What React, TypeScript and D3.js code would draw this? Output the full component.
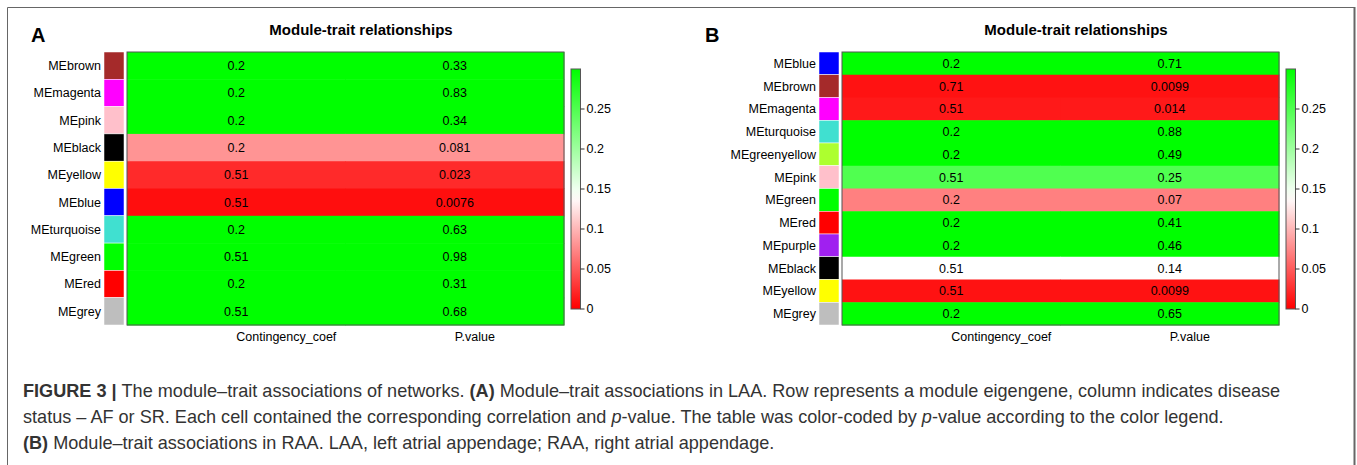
import React from "react";
import * as d3 from "d3";

// ---------- data ----------
const modulesA = ["MEbrown", "MEmagenta", "MEpink", "MEblack", "MEyellow", "MEblue", "MEturquoise", "MEgreen", "MEred", "MEgrey"];
const coefA = [0.2, 0.2, 0.2, 0.2, 0.51, 0.51, 0.2, 0.51, 0.2, 0.51];
const pA = [0.33, 0.83, 0.34, 0.081, 0.023, 0.0076, 0.63, 0.98, 0.31, 0.68];

const modulesB = ["MEblue", "MEbrown", "MEmagenta", "MEturquoise", "MEgreenyellow", "MEpink", "MEgreen", "MEred", "MEpurple", "MEblack", "MEyellow", "MEgrey"];
const coefB = [0.2, 0.71, 0.51, 0.2, 0.2, 0.51, 0.2, 0.2, 0.2, 0.51, 0.51, 0.2];
const pB = [0.71, 0.0099, 0.014, 0.88, 0.49, 0.25, 0.07, 0.41, 0.46, 0.14, 0.0099, 0.65];

const traits = ["Contingency_coef", "P.value"];
const legendTicks = [0, 0.05, 0.1, 0.15, 0.2, 0.25];
const legendDomain = [0, 0.3];
const title = "Module-trait relationships";

const moduleColor: Record<string, string> = {
  MEbrown: "#A52A2A",
  MEmagenta: "#FF00FF",
  MEpink: "#FFC0CB",
  MEblack: "#000000",
  MEyellow: "#FFFF00",
  MEblue: "#0000FF",
  MEturquoise: "#40E0D0",
  MEgreen: "#00FF00",
  MEred: "#FF0000",
  MEgrey: "#BEBEBE",
  MEgreenyellow: "#ADFF2F",
  MEpurple: "#A020F0",
};

const FONT = "'Liberation Sans', Arial, Helvetica, sans-serif";

const color = d3
  .scaleLinear<string>()
  .domain([0, 0.14, 0.3])
  .range(["#ff0000", "#ffffff", "#00ff00"])
  .clamp(true);

type PanelProps = {
  dx: number;
  letterX: number;
  letter: string;
  modules: string[];
  coef: number[];
  p: number[];
  id: string;
};

function Panel({ dx, letterX, letter, modules, coef, p, id }: PanelProps) {
  const stripX0 = 104 + dx;
  const stripX1 = 124 + dx;
  const heatX0 = 127 + dx;
  const heatX1 = 564 + dx;
  const top = 52;
  const bottom = 325;
  const legX0 = 571 + dx;
  const legX1 = 580.5 + dx;

  const y = d3.scaleBand<string>().domain(modules).range([top, bottom]);
  const x = d3.scaleBand<string>().domain(traits).range([heatX0, heatX1]);
  const ly = d3.scaleLinear().domain(legendDomain).range([309, 69]);
  const gradStops = d3.range(0, 1.0001, 0.05).map((t) => {
    const v = legendDomain[0] + t * (legendDomain[1] - legendDomain[0]);
    return { offset: t, c: color(v) };
  });

  return (
    <g>
      <defs>
        <linearGradient id={`grad-${id}`} x1="0" y1="1" x2="0" y2="0">
          {gradStops.map((s, i) => (
            <stop key={i} offset={`${s.offset * 100}%`} stopColor={s.c} />
          ))}
        </linearGradient>
      </defs>
      <text x={letterX} y={42} fontFamily={FONT} fontWeight="bold" fontSize={20} fill="#000">
        {letter}
      </text>
      <text x={361 + dx} y={35} fontFamily={FONT} fontWeight="bold" fontSize={15} textAnchor="middle" fill="#000">
        {title}
      </text>
      {/* module color strip */}
      {modules.map((m) => (
        <rect key={m} x={stripX0} y={y(m)!} width={stripX1 - stripX0} height={y.bandwidth()} fill={moduleColor[m]} stroke="#fff" strokeWidth={0.5} />
      ))}
      {/* row labels */}
      {modules.map((m) => (
        <text key={m} x={stripX0 - 3} y={y(m)! + y.bandwidth() / 2} dy="0.35em" textAnchor="end" fontFamily={FONT} fontSize={12.5} fill="#000">
          {m}
        </text>
      ))}
      {/* cells */}
      {modules.map((m, i) =>
        traits.map((t) => (
          <rect key={m + t} x={x(t)!} y={y(m)!} width={x.bandwidth() + 0.5} height={y.bandwidth() + 0.5} fill={color(p[i])} />
        ))
      )}
      <rect x={heatX0} y={top} width={heatX1 - heatX0} height={bottom - top} fill="none" stroke="#555" strokeWidth={1} />
      {modules.map((m, i) =>
        traits.map((t, j) => (
          <text key={m + t} x={x(t)! + x.bandwidth() / 2} y={y(m)! + y.bandwidth() / 2} dy="0.35em" textAnchor="middle" fontFamily={FONT} fontSize={12.5} fill="#000">
            {j === 0 ? String(coef[i]) : String(p[i])}
          </text>
        ))
      )}
      {/* x labels */}
      {traits.map((t) => (
        <text key={t} x={x(t)! + x.bandwidth() / 2} y={341} fontFamily={FONT} fontSize={12.5} fill="#000">
          {t}
        </text>
      ))}
      {/* legend */}
      <rect x={legX0} y={ly(legendDomain[1])} width={legX1 - legX0} height={ly(legendDomain[0]) - ly(legendDomain[1])} fill={`url(#grad-${id})`} stroke="#555" strokeWidth={1} />
      {legendTicks.map((v) => (
        <g key={v}>
          <line x1={legX1} x2={legX1 + 4} y1={ly(v)} y2={ly(v)} stroke="#333" strokeWidth={1} />
          <text x={legX1 + 6} y={ly(v)} dy="0.35em" fontFamily={FONT} fontSize={12.5} fill="#000">
            {String(v)}
          </text>
        </g>
      ))}
    </g>
  );
}

export default function App() {
  const capFont = FONT;
  const capColor = "#333";
  return (
    <svg width={1357} height={465} style={{ position: "absolute", left: 0, top: 0, background: "#fff" }}>
      <rect x={0} y={0} width={1357} height={465} fill="#fff" />
      <path d="M7.5,470 V7.5 H1354" fill="none" stroke="#666" strokeWidth={1} />
      <line x1={1354.5} x2={1354.5} y1={7} y2={470} stroke="#666" strokeWidth={2} />
      <Panel dx={0} letterX={31} letter="A" modules={modulesA} coef={coefA} p={pA} id="a" />
      <Panel dx={715} letterX={705} letter="B" modules={modulesB} coef={coefB} p={pB} id="b" />
      <g fontFamily={capFont} fontSize={18.1} fill={capColor}>
        <text x={23} y={397}>
          <tspan fontWeight="bold">FIGURE 3 | </tspan>
          <tspan>The module–trait associations of networks. </tspan>
          <tspan fontWeight="bold">(A)</tspan>
          <tspan> Module–trait associations in LAA. Row represents a module eigengene, column indicates disease</tspan>
        </text>
        <text x={23} y={423}>
          <tspan>status – AF or SR. Each cell contained the corresponding correlation and </tspan>
          <tspan fontStyle="italic">p</tspan>
          <tspan>-value. The table was color-coded by </tspan>
          <tspan fontStyle="italic">p</tspan>
          <tspan>-value according to the color legend.</tspan>
        </text>
        <text x={23} y={449}>
          <tspan fontWeight="bold">(B)</tspan>
          <tspan> Module–trait associations in RAA. LAA, left atrial appendage; RAA, right atrial appendage.</tspan>
        </text>
      </g>
    </svg>
  );
}
